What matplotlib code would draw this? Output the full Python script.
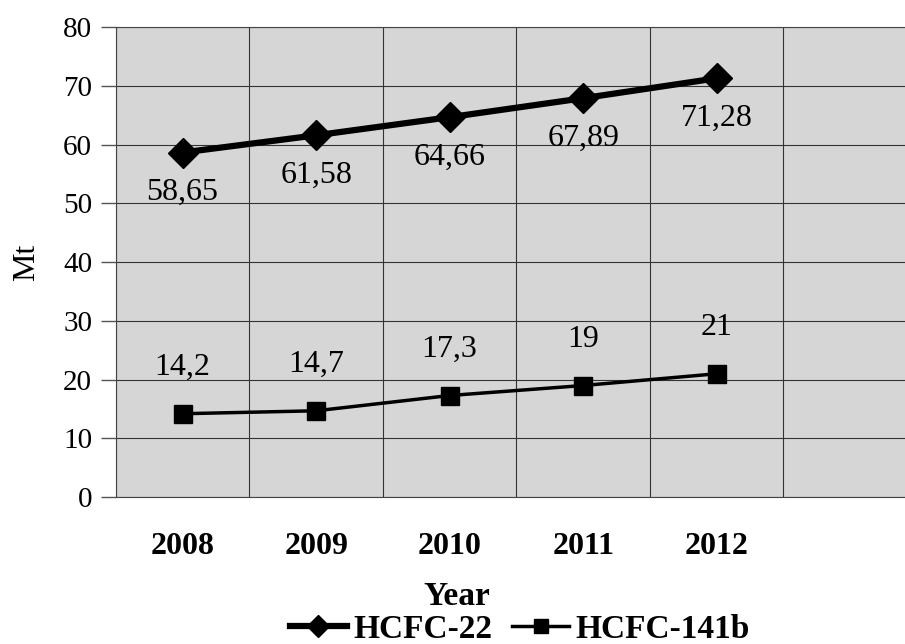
import matplotlib
matplotlib.use("Agg")
import matplotlib.pyplot as plt
from matplotlib.ticker import MultipleLocator, FixedLocator

years = ["2008", "2009", "2010", "2011", "2012"]
hcfc22 = [58.65, 61.58, 64.66, 67.89, 71.28]
hcfc141b = [14.2, 14.7, 17.3, 19, 21]
labels22 = ["58,65", "61,58", "64,66", "67,89", "71,28"]
labels141b = ["14,2", "14,7", "17,3", "19", "21"]

plt.rcParams["font.family"] = ["Liberation Serif", "DejaVu Serif"]

fig = plt.figure(figsize=(9.05, 6.44), dpi=100)
ax = fig.add_axes([0.128, 0.228, 0.872, 0.730])
ax.set_facecolor("#d6d6d6")

x = list(range(len(years)))
ax.plot(x, hcfc22, color="black", lw=4.5, marker="D", ms=15,
        label="HCFC-22", zorder=3)
ax.plot(x, hcfc141b, color="black", lw=2.5, marker="s", ms=13,
        label="HCFC-141b", zorder=3)

for xi, v, t in zip(x, hcfc22, labels22):
    ax.annotate(t, (xi, v), xytext=(0, -40), textcoords="offset pixels",
                ha="center", va="center", fontsize=23)
for xi, v, t in zip(x, hcfc141b, labels141b):
    ax.annotate(t, (xi, v), xytext=(0, 46), textcoords="offset pixels",
                ha="center", va="center", fontsize=23)

ax.set_xlim(-0.5, 5.41)
ax.set_ylim(0, 80)
ax.yaxis.set_major_locator(MultipleLocator(10))
ax.set_xticks(x)
ax.set_xticklabels(years, fontsize=23, fontweight="bold")
ax.xaxis.set_minor_locator(FixedLocator([i + 0.5 for i in range(-1, 6)]))
ax.tick_params(axis="x", which="both", length=0, pad=25)
ax.tick_params(axis="y", labelsize=21, length=11, width=1, color="#555555",
               pad=6)

ax.grid(True, which="major", axis="y", color="#333333", lw=0.8)
ax.grid(True, which="minor", axis="x", color="#333333", lw=0.8)
ax.set_axisbelow(True)
for s in ax.spines.values():
    s.set_color("#444444")
    s.set_linewidth(0.8)
ax.spines["right"].set_visible(False)

ax.set_ylabel("Mt", fontsize=23, labelpad=16)
ax.set_xlabel("Year", fontsize=24, fontweight="bold", labelpad=0)
ax.xaxis.set_label_coords(0.432, -0.178)

ax.legend(loc="lower center", bbox_to_anchor=(0.512, -0.314), ncol=2,
          frameon=False, prop={"size": 24, "weight": "bold"},
          handlelength=1.7, handletextpad=0.2, columnspacing=0.6,
          markerscale=0.75, borderaxespad=0, borderpad=0)

fig.savefig("out.png", dpi=100)
